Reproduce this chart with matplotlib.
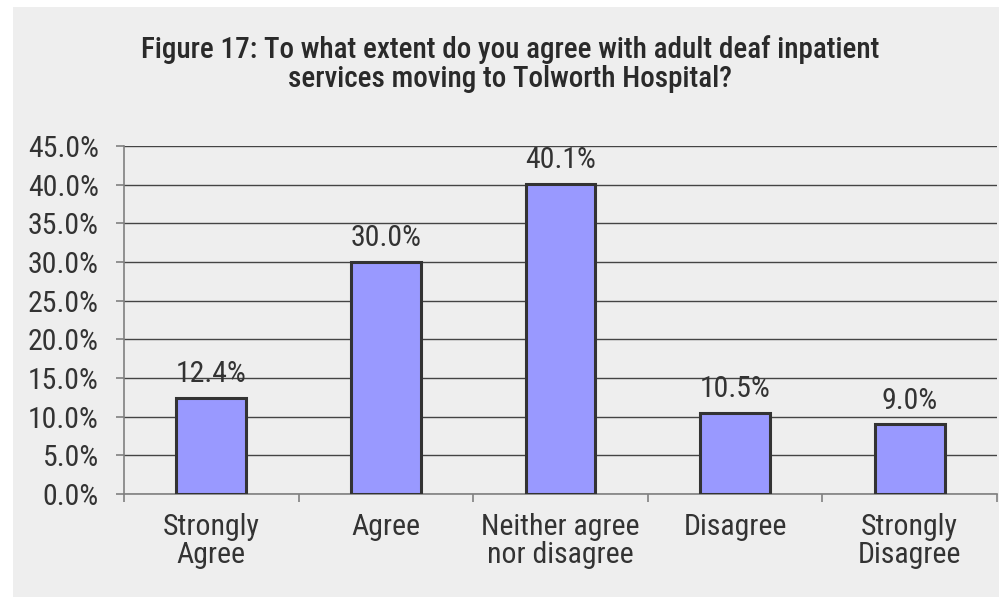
import matplotlib
matplotlib.use("Agg")
import matplotlib.pyplot as plt
from matplotlib.ticker import FixedLocator, MultipleLocator, FuncFormatter
from matplotlib.patches import Rectangle
import numpy as np

categories = ["Strongly\nAgree", "Agree", "Neither agree\nnor disagree", "Disagree", "Strongly\nDisagree"]
percent = [12.4, 30.0, 40.1, 10.5, 9.0]
title_lines = ["Figure 17: To what extent do you agree with adult deaf inpatient",
               "services moving to Tolworth Hospital?"]

plt.rcParams['font.family'] = ['Roboto Condensed', 'Archivo Narrow', 'Liberation Sans', 'DejaVu Sans']
bg = '#eeeeee'
text_col = '#333333'
fs = 21.5
W, H = 1001, 597

fig = plt.figure(figsize=(W / 100, H / 100), dpi=100, facecolor='white')
# grey chart panel behind everything
fig.patches.append(Rectangle((13 / W, 0), (999 - 13) / W, 1 - 7 / H,
                             transform=fig.transFigure, facecolor=bg, edgecolor='none', zorder=-10))

ax = fig.add_axes([124 / W, 1 - 494 / H, (997 - 124) / W, (494 - 146) / H])
ax.set_zorder(5)
ax.set_facecolor(bg)

x = np.arange(len(categories))
ax.bar(x, percent, width=0.4, color='#9999ff', edgecolor='#333333', linewidth=2.2, zorder=3)
for xi, v in zip(x, percent):
    ax.annotate(f"{v:.1f}%", (xi, v), xytext=(0, 7), textcoords='offset points',
                ha='center', va='bottom', fontsize=fs, color=text_col)

ax.set_xlim(-0.5, len(categories) - 0.5)
ax.set_ylim(0, 45)
ax.yaxis.set_major_locator(MultipleLocator(5))
ax.yaxis.set_major_formatter(FuncFormatter(lambda v, p: f"{v:.1f}%"))
ax.grid(axis='y', color='#444444', linewidth=1.0, zorder=1)
ax.set_axisbelow(True)

ax.xaxis.set_major_locator(FixedLocator(np.arange(-0.5, len(categories), 1.0)))
ax.xaxis.set_major_formatter(FuncFormatter(lambda v, p: ""))
ax.xaxis.set_minor_locator(FixedLocator(x))
ax.set_xticklabels(categories, minor=True)
for lbl in ax.get_xticklabels(minor=True):
    lbl.set_linespacing(1.0)
ax.tick_params(axis='x', which='minor', length=0, labelsize=fs, labelcolor=text_col, pad=14)
ax.tick_params(axis='x', which='major', length=6, color='#808080', width=1.2)
ax.tick_params(axis='y', length=6, color='#808080', width=1.2, labelsize=fs, labelcolor=text_col, pad=12)

for side in ['top', 'right']:
    ax.spines[side].set_visible(False)
for side in ['left', 'bottom']:
    ax.spines[side].set_color('#808080')
    ax.spines[side].set_linewidth(1.2)

for line, base in zip(title_lines, [58, 87]):
    fig.text(510 / W, 1 - base / H, line, ha='center', va='baseline', fontsize=21,
             fontweight='medium', color='#2a2a2a')

fig.savefig("out.png", dpi=100, facecolor='white')
